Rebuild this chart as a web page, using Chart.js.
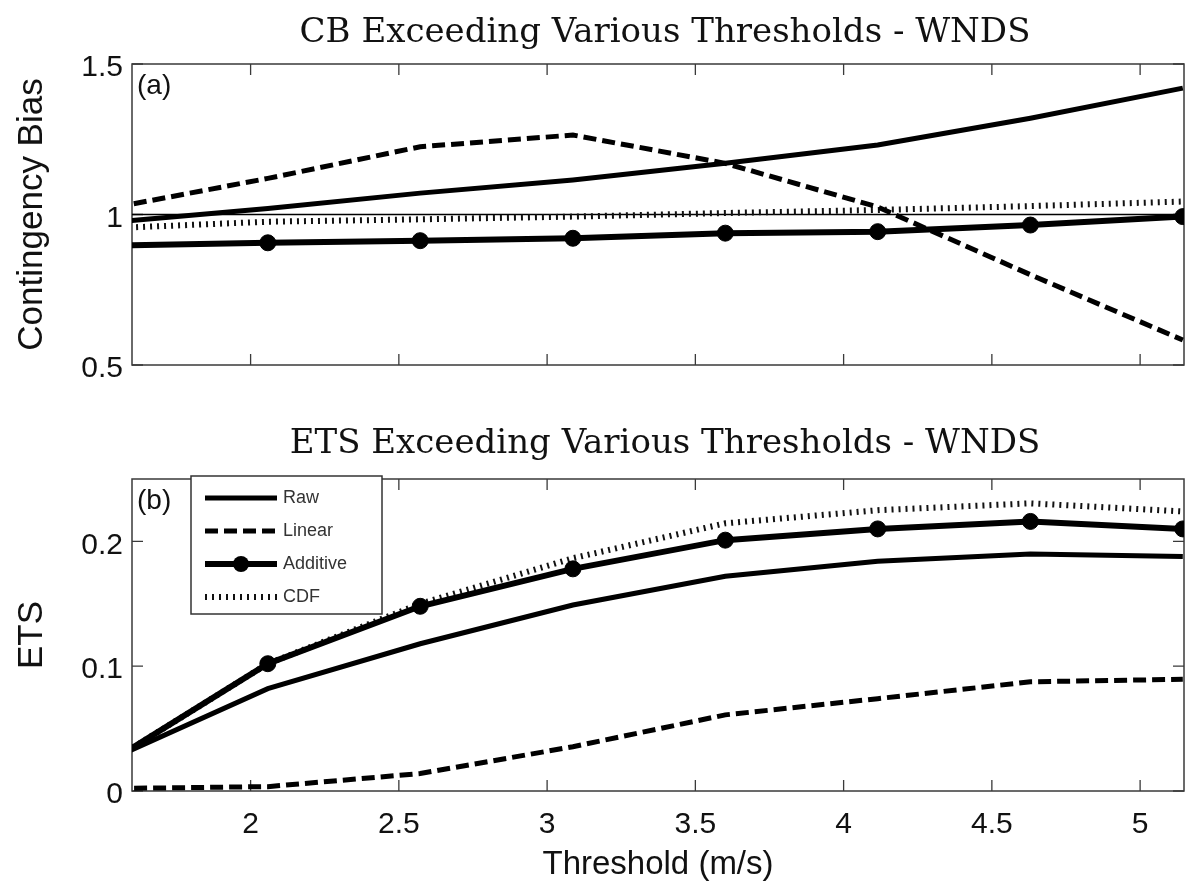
<!DOCTYPE html>
<html lang="en">
<head>
<meta charset="UTF-8">
<title>CB / ETS Exceeding Various Thresholds - WNDS</title>
<script src="https://cdn.jsdelivr.net/npm/chart.js@4.4.1/dist/chart.umd.min.js"></script>
<style>
    body { margin: 0; background: #fff; }
    .panel { position: absolute; left: 0; }
</style>
</head>
<body>
    <canvas id="cbChart" class="panel" width="1193" height="420" style="top:0"></canvas>
    <canvas id="etsChart" class="panel" width="1193" height="473" style="top:420px"></canvas>

<script>
// thresholds 3..10 kt expressed in m/s
const thresholds = [1.543, 2.058, 2.572, 3.087, 3.601, 4.115, 4.630, 5.144];

const cbRaw      = [0.975, 1.02, 1.071, 1.115, 1.17, 1.231, 1.32, 1.42];
const cbLinear   = [1.024, 1.12, 1.225, 1.264, 1.17, 1.025, 0.80, 0.583];
const cbAdditive = [0.897, 0.906, 0.913, 0.921, 0.938, 0.943, 0.965, 0.993];
const cbCdf      = [0.955, 0.976, 0.984, 0.993, 1.005, 1.015, 1.028, 1.043];
const cbRef      = [1, 1];

const etsRaw      = [0.027, 0.082, 0.118, 0.149, 0.172, 0.184, 0.190, 0.188];
const etsLinear   = [0.002, 0.0035, 0.014, 0.0355, 0.061, 0.074, 0.0875, 0.0895];
const etsAdditive = [0.026, 0.102, 0.148, 0.178, 0.201, 0.210, 0.216, 0.210];
const etsCdf      = [0.026, 0.102, 0.150, 0.1865, 0.2145, 0.225, 0.2305, 0.224];

const xTicks   = [2, 2.5, 3, 3.5, 4, 4.5, 5];
const cbTicks  = [0.5, 1, 1.5];
const etsTicks = [0, 0.1, 0.2];

const SANS = '"Liberation Sans", Arial, Helvetica, sans-serif';
const SERIF = '"DejaVu Serif", "Liberation Serif", serif';

function pts(ys, xs) {
    xs = xs || thresholds;
    return ys.map((v, i) => ({ x: xs[i], y: v }));
}

function seriesSet(raw, linear, additive, cdf) {
    return [
        { label: 'Raw', data: pts(raw), borderColor: '#000', borderWidth: 5, pointRadius: 0 },
        { label: 'Linear', data: pts(linear), borderColor: '#000', borderWidth: 5, borderDash: [13, 6], pointRadius: 0 },
        { label: 'Additive', data: pts(additive), borderColor: '#000', backgroundColor: '#000', borderWidth: 6,
          pointRadius: 8, pointBackgroundColor: '#000', pointBorderColor: '#000', pointBorderWidth: 1 },
        { label: 'CDF', data: pts(cdf), borderColor: '#111', borderWidth: 6, borderDash: [2, 5], pointRadius: 0 }
    ];
}

// matlab style box, inward ticks on all four sides, panel tag and title
const boxAxes = {
    id: 'boxAxes',
    beforeDatasetsDraw(chart, args, opts) {
        const { ctx, chartArea: a, scales: { x, y } } = chart;
        ctx.save();
        ctx.strokeStyle = '#3a3a3a';
        ctx.lineWidth = 1.5;
        ctx.strokeRect(a.left, a.top, a.right - a.left, a.bottom - a.top);
        ctx.lineWidth = 1.3;
        ctx.beginPath();
        x.ticks.forEach(t => {
            const px = x.getPixelForValue(t.value);
            ctx.moveTo(px, a.bottom); ctx.lineTo(px, a.bottom - 11);
            ctx.moveTo(px, a.top); ctx.lineTo(px, a.top + 11);
        });
        y.ticks.forEach(t => {
            const py = y.getPixelForValue(t.value);
            ctx.moveTo(a.left, py); ctx.lineTo(a.left + 11, py);
            ctx.moveTo(a.right, py); ctx.lineTo(a.right - 11, py);
        });
        ctx.stroke();

        ctx.fillStyle = '#111';
        ctx.font = '28px ' + SANS;
        ctx.textBaseline = 'middle';
        ctx.textAlign = 'left';
        ctx.fillText(opts.tag, a.left + 5, a.top + 22);

        ctx.font = '34px ' + SERIF;
        ctx.textAlign = 'center';
        ctx.textBaseline = 'alphabetic';
        ctx.fillText(opts.title, (a.left + a.right) / 2 + 7, opts.titleBaseline);
        ctx.restore();
    }
};

// legend box drawn inside the lower panel
const boxLegend = {
    id: 'boxLegend',
    afterDatasetsDraw(chart, args, opts) {
        if (!opts.show) return;
        const { ctx } = chart;
        ctx.save();
        ctx.fillStyle = '#fff';
        ctx.fillRect(opts.left, opts.top, opts.width, opts.height);
        ctx.strokeStyle = '#333';
        ctx.lineWidth = 1.5;
        ctx.strokeRect(opts.left, opts.top, opts.width, opts.height);
        ctx.font = '18px ' + SANS;
        ctx.textBaseline = 'middle';
        ctx.textAlign = 'left';
        chart.data.datasets.filter(ds => ds.label).forEach((ds, i) => {
            const yy = opts.top + opts.firstRow + i * opts.rowStep;
            const x0 = opts.left + 14, x1 = opts.left + 86;
            ctx.strokeStyle = ds.borderColor;
            ctx.lineWidth = ds.borderWidth;
            ctx.setLineDash(ds.borderDash || []);
            ctx.beginPath();
            ctx.moveTo(x0, yy); ctx.lineTo(x1, yy);
            ctx.stroke();
            ctx.setLineDash([]);
            if (ds.pointRadius) {
                ctx.fillStyle = '#000';
                ctx.beginPath();
                ctx.arc((x0 + x1) / 2, yy, ds.pointRadius, 0, Math.PI * 2);
                ctx.fill();
            }
            ctx.fillStyle = '#333';
            ctx.fillText(ds.label, x1 + 6, yy);
        });
        ctx.restore();
    }
};

function makeChart(id, datasets, yMin, yMax, yTicks, yTitle, extra) {
    return new Chart(document.getElementById(id), {
        type: 'line',
        data: { datasets: datasets },
        plugins: [boxAxes, boxLegend],
        options: {
            responsive: false,
            animation: false,
            layout: { padding: { top: extra.top, right: 8, left: 0, bottom: 0 } },
            elements: { line: { tension: 0, borderCapStyle: 'butt', borderJoinStyle: 'miter' } },
            datasets: { line: { clip: 0 } },
            plugins: {
                legend: { display: false },
                tooltip: { enabled: false },
                boxAxes: { tag: extra.tag, title: extra.title, titleBaseline: extra.titleBaseline },
                boxLegend: extra.legend
            },
            scales: {
                x: {
                    type: 'linear',
                    min: 1.6,
                    max: 5.148,
                    afterBuildTicks: s => { s.ticks = xTicks.map(v => ({ value: v })); },
                    afterFit: s => { s.height = extra.xHeight; },
                    grid: { display: false, drawTicks: false },
                    border: { display: false },
                    ticks: {
                        display: extra.xLabels,
                        padding: 16,
                        color: '#111',
                        font: { family: SANS, size: 30, lineHeight: 1.2 },
                        maxRotation: 0,
                        callback: v => String(v)
                    },
                    title: {
                        display: extra.xLabels,
                        text: 'Threshold (m/s)',
                        color: '#111',
                        font: { family: SANS, size: 33, lineHeight: 1.2 },
                        padding: { top: 0, bottom: 8 }
                    }
                },
                y: {
                    min: yMin,
                    max: yMax,
                    afterBuildTicks: s => { s.ticks = yTicks.map(v => ({ value: v })); },
                    afterFit: s => { s.width = 132; },
                    grid: { display: false, drawTicks: false },
                    border: { display: false },
                    ticks: {
                        padding: 9,
                        labelOffset: 4,
                        color: '#111',
                        font: { family: SANS, size: 30 },
                        callback: v => String(v)
                    },
                    title: {
                        display: true,
                        text: yTitle,
                        color: '#111',
                        font: { family: SANS, size: 35, lineHeight: 1.2 },
                        padding: { top: 11, bottom: 0 }
                    }
                }
            }
        }
    });
}

const cbSets = seriesSet(cbRaw, cbLinear, cbAdditive, cbCdf);
cbSets.push({ data: pts(cbRef, [thresholds[0], thresholds[thresholds.length - 1]]),
              borderColor: '#000', borderWidth: 1.5, pointRadius: 0 });

makeChart('cbChart', cbSets, 0.5, 1.5, cbTicks, 'Contingency Bias', {
    top: 64, xHeight: 55, xLabels: false,
    tag: '(a)', title: 'CB Exceeding Various Thresholds - WNDS', titleBaseline: 42,
    legend: { show: false }
});

makeChart('etsChart', seriesSet(etsRaw, etsLinear, etsAdditive, etsCdf), 0, 0.25, etsTicks, 'ETS', {
    top: 59, xHeight: 102, xLabels: true,
    tag: '(b)', title: 'ETS Exceeding Various Thresholds - WNDS', titleBaseline: 33,
    legend: { show: true, left: 191, top: 56, width: 191, height: 138, firstRow: 22, rowStep: 33 }
});
</script>
</body>
</html>
